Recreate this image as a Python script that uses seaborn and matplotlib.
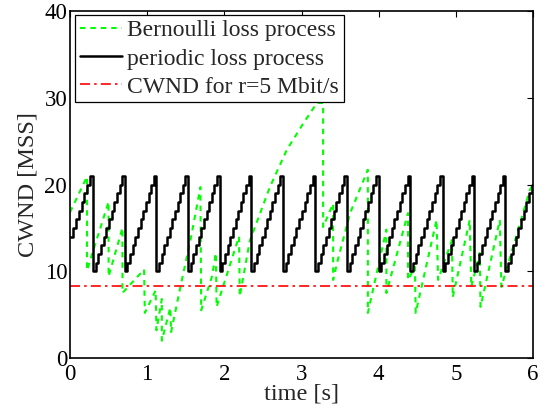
import matplotlib
matplotlib.use("Agg")
import matplotlib.pyplot as plt
import seaborn as sns

# Bernoulli loss process: corner points of the CWND trace
bern_t = [0.00, 0.22, 0.22, 0.50, 0.50, 0.68, 0.68, 0.96, 0.97, 1.11,
          1.12, 1.19, 1.19, 1.30, 1.31, 1.38, 1.45, 1.57, 1.61, 1.69,
          1.70, 1.84, 1.89, 1.90, 2.19, 2.20, 2.33, 2.59, 2.81, 3.02,
          3.20, 3.28, 3.28, 3.41, 3.41, 3.47, 3.63, 3.86, 3.86, 4.10,
          4.10, 4.38, 4.38, 4.47, 4.48, 4.75, 4.77, 4.95, 4.96, 5.18,
          5.20, 5.31, 5.32, 5.57, 5.59, 5.96, 6.00]
bern_cwnd = [16.8, 20.9, 10.1, 18.0, 9.4, 15.0, 7.5, 10.2, 5.2, 7.8,
             3.2, 6.8, 2.0, 5.8, 3.0, 6.0, 9.0, 14.0, 15.9, 19.7,
             5.5, 9.4, 12.1, 5.9, 14.0, 7.1, 13.5, 19.7, 24.0, 27.0,
             29.4, 29.4, 15.1, 17.8, 9.0, 11.3, 16.7, 21.7, 5.2, 14.8,
             7.5, 16.7, 9.0, 10.5, 5.2, 15.9, 9.0, 13.6, 7.0, 15.9,
             8.2, 12.1, 5.9, 15.9, 8.2, 19.4, 20.0]

# periodic loss process: loss instants and the CWND levels climbed in one cycle
periodic_loss_t = [0.30, 0.71, 1.12, 1.53, 1.94, 2.35, 2.76,
                   3.18, 3.59, 4.00, 4.41, 4.83, 5.24, 5.64]
periodic_levels = [10, 11, 12, 13, 14, 15, 16, 17, 18, 19, 20, 21]
periodic_start_level = 14

# CWND needed for r=5 Mbit/s
rate_t = [0.0, 6.0]
rate_cwnd = [8.35, 8.35]

t_end = 6.0

# staircase points for the periodic process (one point per CWND step)
per_t, per_w = [], []
first = periodic_levels[periodic_levels.index(periodic_start_level):]
for i, lv in enumerate(first):
    per_t.append(i * periodic_loss_t[0] / len(first))
    per_w.append(lv)
period = (periodic_loss_t[-1] - periodic_loss_t[0]) / (len(periodic_loss_t) - 1)
for k, t0 in enumerate(periodic_loss_t):
    t1 = periodic_loss_t[k + 1] if k + 1 < len(periodic_loss_t) else t0 + period
    w = (t1 - t0) / len(periodic_levels)
    for i, lv in enumerate(periodic_levels):
        if t0 + i * w > t_end:
            break
        per_t.append(t0 + i * w)
        per_w.append(lv)
per_t.append(t_end)
per_w.append(per_w[-1])

sns.set_theme(style="white")
plt.rcParams["font.family"] = ["Liberation Serif", "DejaVu Serif"]

fig = plt.figure(figsize=(5.51, 4.11), dpi=100)
ax = fig.add_axes([70 / 551, 53 / 411, 463 / 551, 347 / 411])

sns.lineplot(x=bern_t, y=bern_cwnd, ax=ax, sort=False, estimator=None,
             color="#00ff00", lw=1.5, linestyle=(0, (2.6, 2.4)),
             label="Bernoulli loss process")
sns.lineplot(x=per_t, y=per_w, ax=ax, sort=False, estimator=None,
             color="black", lw=1.8, drawstyle="steps-post",
             label="periodic loss process")
sns.lineplot(x=rate_t, y=rate_cwnd, ax=ax, sort=False, estimator=None,
             color="red", lw=1.2, linestyle=(0, (6, 2.5, 1.5, 2.5)),
             label="CWND for r=5 Mbit/s")

ax.set_xlim(0, 6)
ax.set_ylim(0, 40)
ax.set_xticks(range(0, 7))
ax.set_yticks([0, 10, 20, 30, 40])
ax.set_xlabel("time [s]", fontsize=17.5, labelpad=-1)
ax.set_ylabel("CWND [MSS]", fontsize=17.5, labelpad=4)
ax.tick_params(axis="both", which="both", direction="in", length=4, width=0.8,
               top=True, right=True, labelsize=16.5, colors="black")
ax.tick_params(axis="x", pad=4)
ax.tick_params(axis="y", pad=2)
for sp in ax.spines.values():
    sp.set_color("black")
    sp.set_linewidth(1.2)

leg = ax.legend(loc="upper left", bbox_to_anchor=(0.011, 0.988), borderaxespad=0,
                fontsize=17, frameon=True, fancybox=False, framealpha=1,
                edgecolor="black", borderpad=0.2, labelspacing=0.28,
                handlelength=1.8, handletextpad=0.2)
leg.get_frame().set_linewidth(0.9)

fig.savefig("out.png", dpi=100, facecolor="white")
